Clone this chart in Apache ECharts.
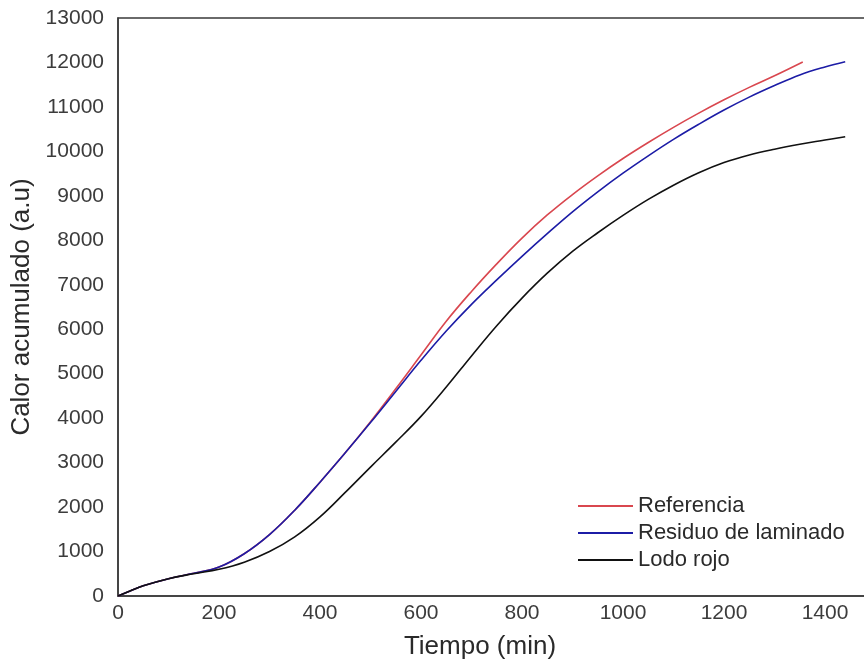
<!DOCTYPE html>
<html>
<head>
<meta charset="utf-8">
<script src="https://cdn.jsdelivr.net/npm/echarts@6/dist/echarts.min.js"></script>
<style>
html,body{margin:0;padding:0;background:#fff;}
#chart{width:864px;height:668px;}
</style>
</head>
<body>
<div id="chart"></div>
<script>
// Data
var seriesNames = ['Referencia', 'Residuo de laminado', 'Lodo rojo'];
var timeRef = [0, 25, 50, 100, 150, 200, 250, 300, 350, 400, 450, 500, 550, 600, 650, 700, 750, 800, 850, 900, 950, 1000, 1050, 1100, 1150, 1200, 1250, 1300, 1356];
var valRef  = [0, 120, 230, 390, 510, 650, 950, 1380, 1930, 2560, 3220, 3920, 4660, 5420, 6180, 6850, 7470, 8050, 8570, 9030, 9450, 9840, 10200, 10540, 10860, 11160, 11440, 11700, 12010];
var timeRes = [0, 25, 50, 100, 150, 200, 250, 300, 350, 400, 450, 500, 550, 600, 650, 700, 750, 800, 850, 900, 950, 1000, 1050, 1100, 1150, 1200, 1250, 1300, 1350, 1400, 1440];
var valRes  = [0, 120, 230, 390, 510, 650, 950, 1380, 1930, 2560, 3220, 3900, 4600, 5300, 5960, 6560, 7110, 7640, 8150, 8640, 9090, 9510, 9900, 10270, 10610, 10930, 11220, 11480, 11720, 11900, 12018];
var timeLodo = [0, 25, 50, 100, 150, 200, 250, 300, 350, 400, 450, 500, 550, 600, 650, 700, 750, 800, 850, 900, 950, 1000, 1050, 1100, 1150, 1200, 1250, 1300, 1350, 1400, 1440];
var valLodo  = [0, 120, 230, 390, 500, 600, 760, 1000, 1330, 1780, 2330, 2900, 3460, 4040, 4700, 5400, 6080, 6700, 7260, 7750, 8170, 8560, 8920, 9240, 9520, 9750, 9920, 10050, 10160, 10255, 10331];
var xTicks = [0, 200, 400, 600, 800, 1000, 1200, 1400];
var yTicks = [0, 1000, 2000, 3000, 4000, 5000, 6000, 7000, 8000, 9000, 10000, 11000, 12000, 13000];

function pairs(t, v) { return t.map(function (x, i) { return [x, v[i]]; }); }

var chart = echarts.init(document.getElementById('chart'), null, {renderer: 'canvas'});
var colors = ['#d9474f', '#1c1ca6', '#111111'];
var data = [pairs(timeRef, valRef), pairs(timeRes, valRes), pairs(timeLodo, valLodo)];
var font = 'Liberation Sans, Arial, sans-serif';

chart.setOption({
  animation: false,
  backgroundColor: '#ffffff',
  grid: {
    show: true, left: 118, top: 18, width: 808, height: 578,
    outerBoundsMode: 'none', containLabel: false,
    borderColor: '#3a3a3a', borderWidth: 1.5, backgroundColor: 'transparent'
  },
  xAxis: {
    type: 'value', min: xTicks[0], max: 1600, interval: 200,
    name: 'Tiempo (min)', nameLocation: 'middle', nameGap: 38,
    nameTextStyle: {fontFamily: font, fontSize: 26, color: '#2a2a2a', padding: [0, 84, 0, 0]},
    axisLine: {show: true, lineStyle: {color: '#3a3a3a', width: 1.5}},
    axisTick: {show: false},
    splitLine: {show: false},
    axisLabel: {fontFamily: font, fontSize: 21, color: '#3c3c3c', margin: 7,
      formatter: function (v) { return String(v); }}
  },
  yAxis: {
    type: 'value', min: yTicks[0], max: yTicks[yTicks.length - 1], interval: 1000,
    name: 'Calor acumulado (a.u)', nameLocation: 'middle', nameGap: 80,
    nameTextStyle: {fontFamily: font, fontSize: 26, color: '#2a2a2a'},
    axisLine: {show: true, lineStyle: {color: '#3a3a3a', width: 1.5}},
    axisTick: {show: false},
    splitLine: {show: false},
    axisLabel: {fontFamily: font, fontSize: 21, color: '#3c3c3c', margin: 14,
      formatter: function (v) { return String(v); }}
  },
  legend: {
    orient: 'vertical', left: 573, top: 490,
    icon: 'rect', itemWidth: 55, itemHeight: 2, itemGap: 5,
    textStyle: {fontFamily: font, fontSize: 22, color: '#2a2a2a'},
    data: seriesNames
  },
  series: seriesNames.map(function (n, i) {
    return {
      name: n, type: 'line', data: data[i], smooth: 0.4,
      showSymbol: false, symbol: 'none',
      lineStyle: {color: colors[i], width: 1.6},
      itemStyle: {color: colors[i]}
    };
  })
});
</script>
</body>
</html>
